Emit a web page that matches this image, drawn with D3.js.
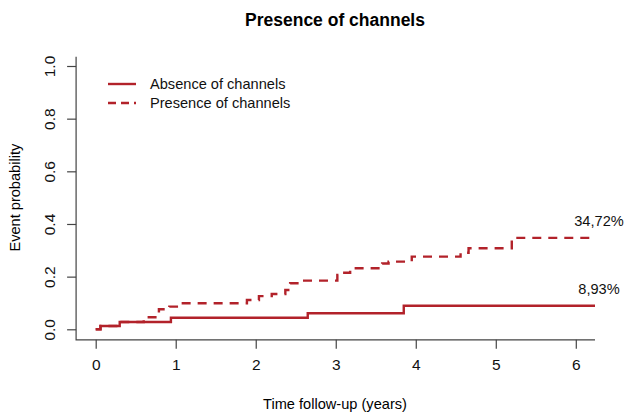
<!DOCTYPE html>
<html>
<head>
<meta charset="utf-8">
<title>Presence of channels</title>
<script src="https://cdn.jsdelivr.net/npm/d3@7/dist/d3.min.js"></script>
<style>
    html, body {
        margin: 0;
        padding: 0;
        background: #fff;
    }
    svg {
        font-family: "Liberation Sans", Arial, sans-serif;
    }
</style>
</head>
<body>
<div id="chart"></div>
<script>
    // cumulative incidence
    const absenceTime = [0, 0.06, 0.3, 0.94, 2.65, 3.85, 6.24];
    const absenceProb = [0, 0.0125, 0.028, 0.044, 0.061, 0.0893, 0.0893];

    const presenceTime = [0, 0.06, 0.3, 0.6, 0.79, 0.92, 1.06, 1.89, 2.04, 2.2, 2.37, 2.43, 2.56,
        3.02, 3.08, 3.18, 3.58, 3.66, 3.95, 4.56, 4.66, 5.2, 6.24];
    const presenceProb = [0, 0.0125, 0.028, 0.046, 0.076, 0.086, 0.099, 0.111, 0.126, 0.134, 0.149, 0.175, 0.185,
        0.206, 0.215, 0.232, 0.25, 0.257, 0.276, 0.291, 0.308, 0.3472, 0.3472];

    const xTicks = [0, 1, 2, 3, 4, 5, 6];
    const yTicks = [0, 0.2, 0.4, 0.6, 0.8, 1.0];
    const seriesNames = ["Absence of channels", "Presence of channels"];
    const endLabels = ["8,93%", "34,72%"];

    const width = 625, height = 412;
    const red = "#b2222a";
    const axisColor = "#444";
    const fontSize = 14.6;

    const x = d3.scaleLinear([0, 6.24], [95.7, 595]);
    const y = d3.scaleLinear([0, 1], [329.3, 66]);
    const xlim = [-0.245, 6.24];
    const ylim = [-0.04, 1.035];

    const svg = d3.select("#chart").append("svg")
        .attr("width", width)
        .attr("height", height)
        .attr("viewBox", [0, 0, width, height]);

    svg.append("text")
        .attr("x", 335)
        .attr("y", 26)
        .attr("text-anchor", "middle")
        .attr("font-size", 17.5)
        .attr("font-weight", "bold")
        .text("Presence of channels");

    // L-shaped box
    svg.append("path")
        .attr("d", `M${x(xlim[0])},${y(ylim[1])}V${y(ylim[0])}H${x(xlim[1])}`)
        .attr("fill", "none")
        .attr("stroke", axisColor)
        .attr("stroke-width", 1.2);

    svg.append("g")
        .attr("transform", `translate(0,${y(ylim[0])})`)
        .call(d3.axisBottom(x).tickValues(xTicks).tickFormat(d3.format("d")).tickSize(9).tickPadding(10))
        .call(g => g.select(".domain").remove())
        .call(g => g.selectAll("line").attr("stroke", axisColor).attr("stroke-width", 1.2))
        .call(g => g.selectAll("text").attr("font-size", 15.5).attr("fill", "#111")
            .attr("font-family", "Liberation Sans, Arial, sans-serif"));

    svg.append("g")
        .attr("transform", `translate(${x(xlim[0])},0)`)
        .call(d3.axisLeft(y).tickValues(yTicks).tickFormat(d3.format(".1f")).tickSize(9))
        .call(g => g.select(".domain").remove())
        .call(g => g.selectAll("line").attr("stroke", axisColor).attr("stroke-width", 1.2))
        .call(g => g.selectAll("text")
            .attr("x", null).attr("dy", "0.35em")
            .attr("transform", "translate(-27,0) rotate(-90)")
            .attr("text-anchor", "middle")
            .attr("font-size", 15.5).attr("fill", "#111")
            .attr("font-family", "Liberation Sans, Arial, sans-serif"));

    svg.append("text")
        .attr("transform", `translate(15,${y(0.5)}) rotate(-90)`)
        .attr("dy", "0.35em")
        .attr("text-anchor", "middle")
        .attr("font-size", fontSize)
        .text("Event probability");

    svg.append("text")
        .attr("x", 335)
        .attr("y", 409)
        .attr("text-anchor", "middle")
        .attr("font-size", fontSize)
        .text("Time follow-up (years)");

    const line = d3.line()
        .x(d => x(d[0]))
        .y(d => y(d[1]))
        .curve(d3.curveStepAfter);

    const series = [
        {name: seriesNames[0], pts: d3.zip(absenceTime, absenceProb), dash: null, label: endLabels[0]},
        {name: seriesNames[1], pts: d3.zip(presenceTime, presenceProb), dash: "9,7", label: endLabels[1]}
    ];

    svg.selectAll(".curve")
        .data(series)
        .join("path")
        .attr("class", "curve")
        .attr("d", d => line(d.pts))
        .attr("fill", "none")
        .attr("stroke", red)
        .attr("stroke-width", 2.4)
        .attr("stroke-dasharray", d => d.dash);

    svg.selectAll(".endlabel")
        .data(series)
        .join("text")
        .attr("class", "endlabel")
        .attr("x", 599)
        .attr("y", d => y(d.pts[d.pts.length - 1][1]) - 12)
        .attr("text-anchor", "middle")
        .attr("font-size", fontSize)
        .attr("fill", "#111")
        .text(d => d.label);

    // legend
    const legend = svg.append("g").attr("transform", "translate(108,84)");
    const items = legend.selectAll("g")
        .data(series)
        .join("g")
        .attr("transform", (d, i) => `translate(0,${i * 19})`);
    items.append("line")
        .attr("x1", 0).attr("x2", 28)
        .attr("stroke", red)
        .attr("stroke-width", 2.4)
        .attr("stroke-dasharray", d => d.dash ? "8,5" : null);
    items.append("text")
        .attr("x", 42)
        .attr("dy", "0.35em")
        .attr("font-size", fontSize)
        .attr("fill", "#111")
        .text(d => d.name);
</script>
</body>
</html>
